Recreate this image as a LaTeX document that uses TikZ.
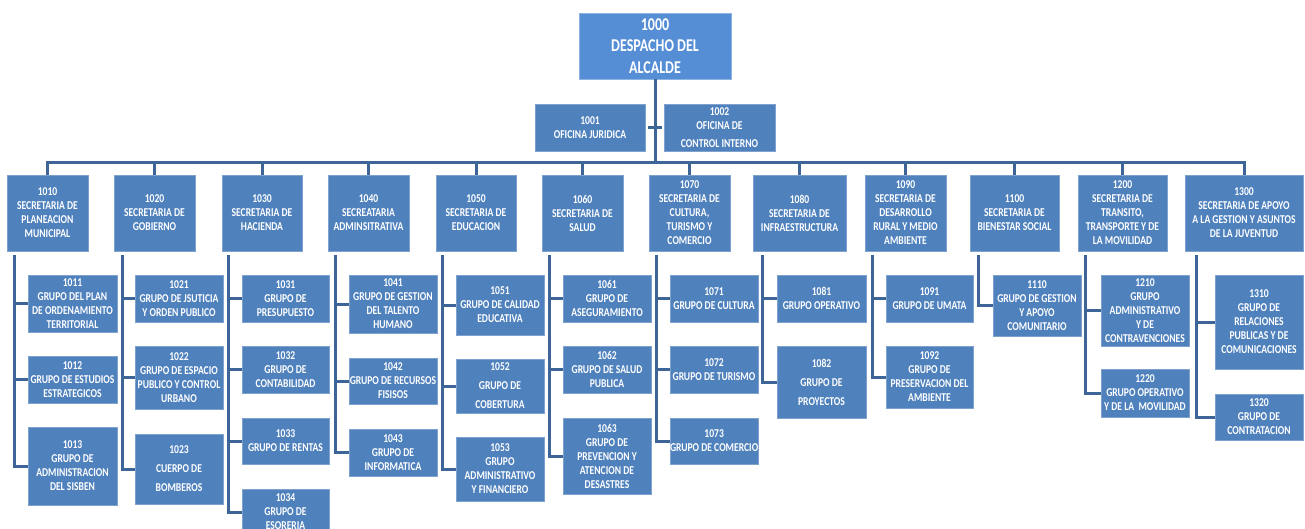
\documentclass[tikz,border=0pt]{standalone}
\usepackage{fontspec}
\setmainfont{Carlito}[FakeStretch=0.8]
\newfontfamily\topfont{Carlito}[FakeStretch=0.78]
\definecolor{boxfill}{HTML}{4F81BD}
\definecolor{boxline}{HTML}{7FA1CD}
\definecolor{topfill}{HTML}{558ED5}
\definecolor{topline}{HTML}{8EB4E3}
\definecolor{linecol}{HTML}{3D6598}
\newcommand\obox[6]{%
  \pgfmathsetmacro\bw{#4-#2}%
  \pgfmathsetmacro\bh{#5-#3}%
  \node[box,anchor=north west,minimum width=\bw pt,minimum height=\bh pt] (#1) at (#2,#3) {#6};}
\begin{document}
\begin{tikzpicture}[x=1pt,y=-1pt,
  box/.style={draw=boxline,line width=0.8pt,fill=boxfill,text=white,
    font=\bfseries\fontsize{12}{14}\selectfont,align=center,inner sep=0pt,outer sep=0pt},
  topbox/.style={box,fill=topfill,draw=topline,font=\topfont\bfseries\fontsize{18}{21.5}\selectfont},
  conn/.style={draw=linecol,line width=3pt}]
\clip (0,0) rectangle (1305,529);
\useasboundingbox (0,0) rectangle (1305,529);
\fill[white] (0,0) rectangle (1305,529);

% top
\node[topbox,anchor=north west,minimum width=152pt,minimum height=66pt] (n1000) at (579,13) {1000\\DESPACHO DEL\\ALCALDE};
\obox{n1001}{535}{104}{645}{151}{1001\\OFICINA JURIDICA}
\obox{n1002}{664}{104}{775}{151}{1002\\OFICINA DE\\[4pt]CONTROL INTERNO}

% secretarias
\obox{n1010}{7}{175}{88}{251}{1010\\SECRETARIA DE\\PLANEACION\\MUNICIPAL}
\obox{n1020}{114}{175}{195}{251}{1020\\SECRETARIA DE\\GOBIERNO}
\obox{n1030}{222}{175}{302}{251}{1030\\SECRETARIA DE\\HACIENDA}
\obox{n1040}{328}{175}{409}{251}{1040\\SECREATARIA\\ADMINSITRATIVA}
\obox{n1050}{436}{175}{516}{251}{1050\\SECRETARIA DE\\EDUCACION}
\obox{n1060}{542}{175}{623}{251}{1060\\SECRETARIA DE\\SALUD}
\obox{n1070}{649}{175}{730}{251}{1070\\SECRETARIA DE\\CULTURA,\\TURISMO Y\\COMERCIO}
\obox{n1080}{753}{175}{846}{251}{1080\\SECRETARIA DE\\INFRAESTRUCTURA}
\obox{n1090}{865}{175}{946}{251}{1090\\SECRETARIA DE\\DESARROLLO\\RURAL Y MEDIO\\AMBIENTE}
\obox{n1100}{970}{175}{1059}{251}{1100\\SECRETARIA DE\\BIENESTAR SOCIAL}
\obox{n1200}{1078}{175}{1167}{251}{1200\\SECRETARIA DE\\TRANSITO,\\TRANSPORTE Y DE\\LA MOVILIDAD}
\obox{n1300}{1185}{175}{1303}{251}{1300\\SECRETARIA DE APOYO\\A LA GESTION Y ASUNTOS\\DE LA JUVENTUD}

% groups
\obox{n1011}{28}{275}{117}{332}{1011\\GRUPO DEL PLAN\\DE ORDENAMIENTO\\TERRITORIAL}
\obox{n1012}{28}{356}{117}{403}{1012\\GRUPO DE ESTUDIOS\\ESTRATEGICOS}
\obox{n1013}{28}{427}{117}{505}{1013\\GRUPO DE\\ADMINISTRACION\\DEL SISBEN}
\obox{n1021}{135}{275}{223}{322}{1021\\GRUPO DE JSUTICIA\\Y ORDEN PUBLICO}
\obox{n1022}{135}{346}{223}{409}{1022\\GRUPO DE ESPACIO\\PUBLICO Y CONTROL\\URBANO}
\obox{n1023}{135}{434}{223}{504}{1023\\[5pt]CUERPO DE\\[5pt]BOMBEROS}
\obox{n1031}{242}{275}{329}{322}{1031\\GRUPO DE\\PRESUPUESTO}
\obox{n1032}{242}{346}{329}{393}{1032\\GRUPO DE\\CONTABILIDAD}
\obox{n1033}{242}{418}{329}{464}{1033\\GRUPO DE RENTAS}
\obox{n1034}{242}{489}{329}{535}{1034\\GRUPO DE\\ESORERIA}
\obox{n1041}{349}{275}{437}{333}{1041\\GRUPO DE GESTION\\DEL TALENTO\\HUMANO}
\obox{n1042}{349}{358}{437}{404}{1042\\GRUPO DE RECURSOS\\FISISOS}
\obox{n1043}{349}{429}{437}{476}{1043\\GRUPO DE\\INFORMATICA}
\obox{n1051}{456}{275}{544}{335}{1051\\GRUPO DE CALIDAD\\EDUCATIVA}
\obox{n1052}{456}{359}{544}{413}{1052\\[5pt]GRUPO DE\\[5pt]COBERTURA}
\obox{n1053}{456}{437}{544}{501}{1053\\GRUPO\\ADMINISTRATIVO\\Y FINANCIERO}
\obox{n1061}{563}{275}{651}{322}{1061\\GRUPO DE\\ASEGURAMIENTO}
\obox{n1062}{563}{346}{651}{393}{1062\\GRUPO DE SALUD\\PUBLICA}
\obox{n1063}{563}{418}{651}{494}{1063\\GRUPO DE\\PREVENCION Y\\ATENCION DE\\DESASTRES}
\obox{n1071}{670}{275}{758}{322}{1071\\GRUPO DE CULTURA}
\obox{n1072}{670}{346}{758}{393}{1072\\GRUPO DE TURISMO}
\obox{n1073}{670}{418}{758}{464}{1073\\GRUPO DE COMERCIO}
\obox{n1081}{777}{275}{866}{322}{1081\\GRUPO OPERATIVO}
\obox{n1082}{777}{346}{866}{418}{1082\\[5pt]GRUPO DE\\[5pt]PROYECTOS}
\obox{n1091}{886}{275}{973}{322}{1091\\GRUPO DE UMATA}
\obox{n1092}{886}{346}{973}{408}{1092\\GRUPO DE\\PRESERVACION DEL\\AMBIENTE}
\obox{n1110}{993}{275}{1081}{336}{1110\\GRUPO DE GESTION\\Y APOYO\\COMUNITARIO}
\obox{n1210}{1101}{275}{1189}{346}{1210\\GRUPO\\ADMINISTRATIVO\\Y DE\\CONTRAVENCIONES}
\obox{n1220}{1101}{369}{1189}{417}{1220\\GRUPO OPERATIVO\\Y DE LA~~MOVILIDAD}
\obox{n1310}{1215}{275}{1303}{369}{1310\\GRUPO DE\\RELACIONES\\PUBLICAS Y DE\\COMUNICACIONES}
\obox{n1320}{1215}{394}{1303}{440}{1320\\GRUPO DE\\CONTRATACION}

% connectors top
\coordinate (bar) at (0,163);
\draw[conn] (n1000.south) -- (n1000.south |- bar);
\draw[conn] ([xshift=3pt]n1001.east) -- ([xshift=-2pt]n1002.west);
\draw[conn] (n1010.north) -- (n1010.north |- bar) -- (n1300.north |- bar) -- (n1300.north);
\foreach \s in {1020,1030,1040,1050,1060,1070,1080,1090,1100,1200}
  \draw[conn] (n\s.north) -- (n\s.north |- bar);

% vertical lines
\coordinate (v1010) at (14,255);
\coordinate (v1020) at (122,255);
\coordinate (v1030) at (228,255);
\coordinate (v1040) at (335,255);
\coordinate (v1050) at (442,255);
\coordinate (v1060) at (549,255);
\coordinate (v1070) at (656,255);
\coordinate (v1080) at (762,255);
\coordinate (v1090) at (872,255);
\coordinate (v1100) at (978,255);
\coordinate (v1200) at (1085,255);
\coordinate (v1300) at (1196,255);

\draw[conn] (v1010) |- (n1013.west);
\draw[conn] (v1010 |- n1011.west) -- (n1011.west);
\draw[conn] (v1010 |- n1012.west) -- (n1012.west);
\draw[conn] (v1020) |- (n1023.west);
\draw[conn] (v1020 |- n1021.west) -- (n1021.west);
\draw[conn] (v1020 |- n1022.west) -- (n1022.west);
\draw[conn] (v1030) |- (n1034.west);
\draw[conn] (v1030 |- n1031.west) -- (n1031.west);
\draw[conn] (v1030 |- n1032.west) -- (n1032.west);
\draw[conn] (v1030 |- n1033.west) -- (n1033.west);
\draw[conn] (v1040) |- (n1043.west);
\draw[conn] (v1040 |- n1041.west) -- (n1041.west);
\draw[conn] (v1040 |- n1042.west) -- (n1042.west);
\draw[conn] (v1050) |- (n1053.west);
\draw[conn] (v1050 |- n1051.west) -- (n1051.west);
\draw[conn] (v1050 |- n1052.west) -- (n1052.west);
\draw[conn] (v1060) |- (n1063.west);
\draw[conn] (v1060 |- n1061.west) -- (n1061.west);
\draw[conn] (v1060 |- n1062.west) -- (n1062.west);
\draw[conn] (v1070) |- (n1073.west);
\draw[conn] (v1070 |- n1071.west) -- (n1071.west);
\draw[conn] (v1070 |- n1072.west) -- (n1072.west);
\draw[conn] (v1080) |- (n1082.west);
\draw[conn] (v1080 |- n1081.west) -- (n1081.west);
\draw[conn] (v1090) |- (n1092.west);
\draw[conn] (v1090 |- n1091.west) -- (n1091.west);
\draw[conn] (v1100) |- (n1110.west);
\draw[conn] (v1200) |- (n1220.west);
\draw[conn] (v1200 |- n1210.west) -- (n1210.west);
\draw[conn] (v1300) |- (n1320.west);
\draw[conn] (v1300 |- n1310.west) -- (n1310.west);
\end{tikzpicture}
\end{document}
